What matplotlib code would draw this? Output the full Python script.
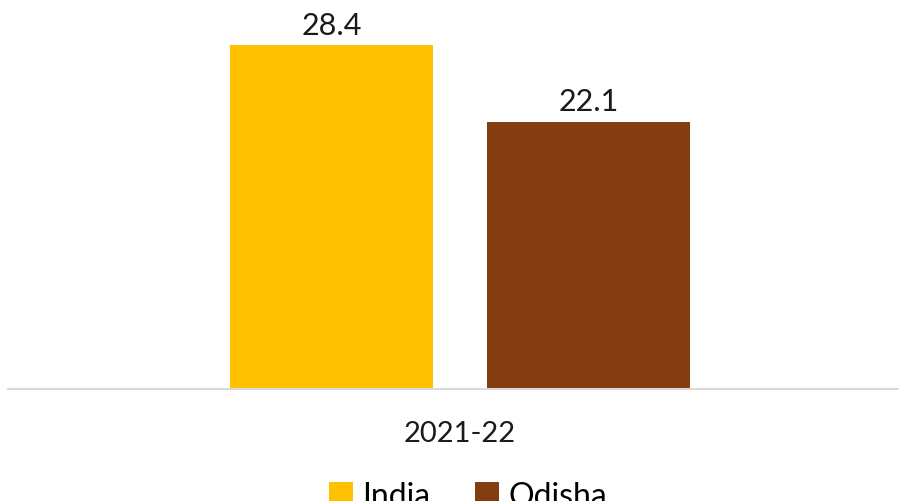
import matplotlib.pyplot as plt
from matplotlib.patches import Patch

plt.rcParams['font.family'] = ['Lato', 'DejaVu Sans']

# data
category = "2021-22"
series = ["India", "Odisha"]
values = [28.4, 22.1]
colors = ["#FFC000", "#843C11"]

W, H = 899, 502
fig = plt.figure(figsize=(W / 100, H / 100), dpi=100)

# axes spans the grey baseline (x 8..898 px, baseline at y 390 px)
ax = fig.add_axes([8 / W, 1 - 390 / H, 890 / W, (390 - 27) / H])

bar_w = 0.4
offsets = [-0.253, 0.253]
for off, val, col in zip(offsets, values, colors):
    ax.bar(off, val, width=bar_w, color=col, zorder=2)
    ax.text(off, val + 0.55, f"{val}", ha="center", va="bottom",
            fontsize=22, color="#1a1a1a")

ax.set_xlim(-0.8906, 0.863)
ax.set_ylim(0, 30)

for s in ["top", "right", "left"]:
    ax.spines[s].set_visible(False)
ax.spines["bottom"].set_color("#d9d9d9")
ax.spines["bottom"].set_linewidth(1.5)
ax.set_yticks([])
ax.set_xticks([0])
ax.set_xticklabels([category], fontsize=21, color="#1a1a1a")
ax.tick_params(axis="x", length=0, pad=22)

handles = [Patch(facecolor=c, edgecolor="none") for c in colors]
fig.legend(handles, series, loc="upper center", ncol=2,
           bbox_to_anchor=(468 / W, 1 - 453 / H), frameon=False,
           fontsize=23, handlelength=0.75, handleheight=0.75,
           handletextpad=0.3, columnspacing=1.4)

fig.savefig("out.png", dpi=100)
